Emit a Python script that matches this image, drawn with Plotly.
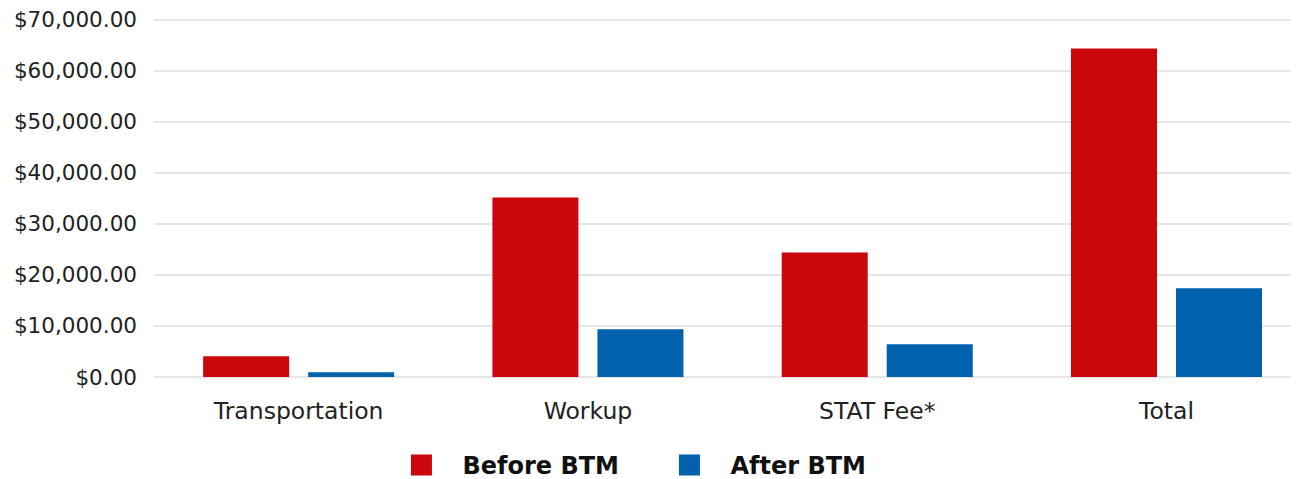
import plotly.graph_objects as go

categories = ["Transportation", "Workup", "STAT Fee*", "Total"]
before_btm = [4050, 35170, 24400, 64320]
after_btm = [920, 9330, 6400, 17360]
series_names = ["Before BTM", "After BTM"]
y_ticks = [0, 10000, 20000, 30000, 40000, 50000, 60000, 70000]
y_tick_labels = ["$%s" % format(v, ",.2f") for v in y_ticks]

RED = "#cc070c"
BLUE = "#0061ad"
FONT = "DejaVu Sans"

# page body has a default 8px margin; size the figure so it fits the window
W, H = 1291, 471

fig = go.Figure()
fig.add_trace(go.Bar(x=categories, y=before_btm, name=series_names[0],
                     marker=dict(color=RED, line=dict(width=0)), showlegend=False))
fig.add_trace(go.Bar(x=categories, y=after_btm, name=series_names[1],
                     marker=dict(color=BLUE, line=dict(width=0)), showlegend=False))
# legend entries with larger square swatches
for nm, col in zip(series_names, [RED, BLUE]):
    fig.add_trace(go.Scatter(x=[None], y=[None], mode="markers", name=nm,
                             marker=dict(symbol="square", size=16, color=col,
                                         line=dict(color=col, width=5)),
                             showlegend=True))

fig.update_layout(
    width=W, height=H,
    margin=dict(l=146, r=0, t=8.5, b=102.3, autoexpand=False),
    paper_bgcolor="white", plot_bgcolor="white",
    barmode="group", bargap=0.274, bargroupgap=0.181,
    font=dict(family=FONT, color="#222222", size=20),
    showlegend=True,
    legend=dict(orientation="h", xref="container", yref="container",
                x=0.2885, xanchor="left", y=0.029, yanchor="middle",
                font=dict(family=FONT, size=24, color="#111111", weight="bold"),
                itemwidth=72, entrywidth=181, entrywidthmode="pixels",
                bgcolor="rgba(0,0,0,0)"),
    xaxis=dict(type="category", categoryorder="array", categoryarray=categories,
               range=[-0.5, 3.458], showgrid=False, zeroline=False, showline=False,
               ticks="", tickfont=dict(family=FONT, size=23.5, color="#222222"),
               ticklabelstandoff=17, automargin=False),
    yaxis=dict(range=[0, 70500], tickvals=y_ticks, ticktext=y_tick_labels,
               showgrid=True, gridcolor="#e6e6e6", gridwidth=2,
               zeroline=True, zerolinecolor="#e6e6e6", zerolinewidth=2,
               showline=False, ticks="", ticklabeloverflow="allow",
               tickfont=dict(family=FONT, size=21.5, color="#222222"),
               ticklabelstandoff=16, automargin=False),
)

fig.write_html("out.html")
